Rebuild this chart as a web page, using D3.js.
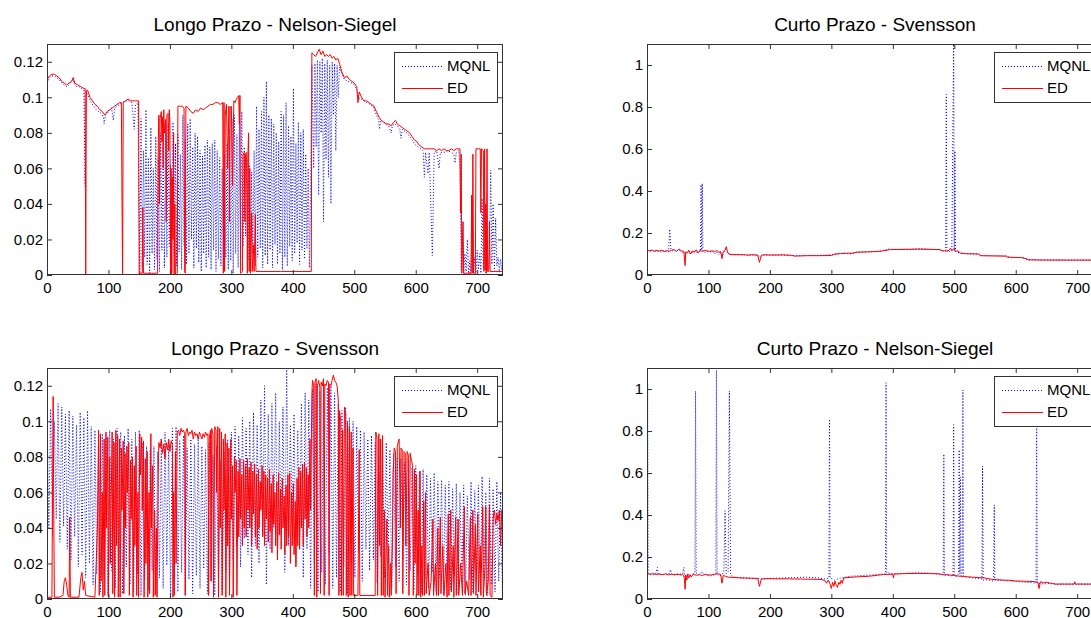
<!DOCTYPE html>
<html>
<head>
<meta charset="utf-8">
<script src="https://cdn.jsdelivr.net/npm/d3@7"></script>
<style>
  body { margin: 0; background: #ffffff; }
  svg { display: block; }
  text { font-family: Arial, "Liberation Sans", sans-serif; fill: #000; }
  .frame { fill: none; stroke: #333; stroke-width: 1; }
  .tick line { stroke: #333; }
  .mqnl { fill: none; stroke: #0000ff; stroke-width: 1; stroke-dasharray: 1,2; }
  .ed { fill: none; stroke: #ff0000; stroke-width: 1; }
  .legendbox { fill: #ffffff; stroke: #333; stroke-width: 1; }
</style>
</head>
<body>
<svg></svg>
<script>

var xTicks = [0, 100, 200, 300, 400, 500, 600, 700];
var xTickLabels = ["0", "100", "200", "300", "400", "500", "600", "700"];
var longTicks = [0, 0.02, 0.04, 0.06, 0.08, 0.1, 0.12];
var longTickLabels = ["0", "0.02", "0.04", "0.06", "0.08", "0.1", "0.12"];
var shortTicks = [0, 0.2, 0.4, 0.6, 0.8, 1];
var shortTickLabels = ["0", "0.2", "0.4", "0.6", "0.8", "1"];
var seriesNames = ["MQNL", "ED"];
var titles = ["Longo Prazo - Nelson-Siegel", "Curto Prazo - Svensson",
              "Longo Prazo - Svensson", "Curto Prazo - Nelson-Siegel"];

// Longo Prazo - Nelson-Siegel
var lpnsMqnl = [[0,.108],[4,.111],[8,.112],[12,.112],[16,.111],[20,.110],[24,.108],[28,.107],[32,.106],[36,.107],[40,.109],[42,.111],[44,.108],[48,.106],[52,.106],[56,.105],[60,.104],[62,.05],[64,.103],[68,.100],[72,.097],[76,.095],[80,.093],[84,.092],[88,.091],[92,.089],[93,.085],[95,.09],[98,.091],[102,.093],[105,.094],[108,.087],[110,.094],[114,.095],[118,.096],[122,.097],[126,.098],[130,.098],[134,.098],[138,.097],[142,.082],[144,.096],[148,.097],
  [151,.000],[153,.088],[155,.004],[157,.070],[159,.010],[161,.093],[163,.006],[165,.066],[167,.001],[169,.083],[171,.012],[173,.060],[175,.003],[177,.078],[179,.009],[181,.066],[183,.002],[185,.080],[187,.014],[189,.072],[191,.004],[193,.088],[195,.010],[197,.085],[199,.016],[201,.062],[203,.002],[205,.086],[207,.011],[209,.074],[211,.005],[213,.079],[215,.013],[217,.068],[219,.003],[221,.090],[223,.017],[225,.076],[227,.006],[229,.085],[231,.012],[233,.088],[235,.020],[237,.072],[239,.004],[241,.080],[243,.015],[245,.078],[247,.007],[249,.070],[251,.002],[253,.067],[255,.012],[257,.073],[259,.004],[261,.076],[263,.010],[265,.072],[267,.003],[269,.074],[271,.014],[273,.076],[275,.002],[277,.070],[279,.009],[281,.066],[283,.005],[285,.060],[287,.001],[289,.068],[291,.010],[293,.074],[295,.003],[297,.082],[299,.008],[301,.088],[303,.001],[305,.090],[307,.012],[309,.079],[311,.004],[313,.085],[315,.010],[317,.092],[319,.016],[321,.072],[323,.022],[325,.066],[327,.008],[329,.062],[331,.002],[333,.058],[335,.012],[337,.070],[339,.005],[341,.095],[343,.010],[345,.082],[347,.015],[349,.092],[351,.004],[353,.100],[355,.011],[357,.109],[359,.006],[361,.090],[363,.014],[365,.088],[367,.004],[369,.085],[371,.017],[373,.080],[375,.006],[377,.075],[379,.012],[381,.092],[383,.003],[385,.090],[387,.010],[389,.097],[391,.005],[393,.084],[395,.016],[397,.078],[399,.008],[401,.105],[403,.012],[405,.074],[407,.018],[409,.086],[411,.006],[413,.080],[415,.014],[417,.082],[419,.009],[421,.068],[423,.015],[425,.060],[427,.004],[429,.052],[431,.118],
  [434,.060],[436,.119],[438,.072],[440,.121],[442,.045],[444,.120],[446,.080],[448,.122],[450,.030],[452,.119],[454,.065],[456,.121],[458,.055],[460,.118],[462,.040],[464,.120],[466,.090],[468,.119],[470,.070],[472,.118],[474,.100],[476,.117],
  [480,.113],[484,.110],[490,.109],[496,.108],[500,.107],[504,.104],[508,.099],[512,.099],[516,.098],[520,.097],[526,.096],[532,.094],[536,.090],[540,.087],[541,.082],[543,.087],[548,.086],[552,.085],[556,.084],[560,.080],[562,.084],[566,.085],[570,.084],[574,.082],[576,.077],[578,.082],[582,.081],[588,.079],[592,.077],[596,.075],[600,.073],[604,.072],[608,.071],[612,.070],[614,.055],[616,.069],[620,.057],[622,.069],[627,.011],[630,.069],[634,.070],[638,.060],[640,.069],[646,.069],[652,.070],[658,.069],[662,.068],[664,.063],[666,.069],[670,.070],[672,.060],
  [674,.003],[676,.025],[678,.001],[680,.012],[682,.002],[684,.020],[686,.000],[688,.008],[690,.001],[692,.042],[694,.002],[696,.010],[698,.000],[700,.014],[702,.003],[704,.012],[706,.001],[708,.043],[710,.004],[712,.015],[714,.001],[716,.010],[718,.003],[720,.014],[722,.059],[724,.006],[726,.040],[728,.002],[730,.032],[732,.005],[734,.010],[736,.002],[738,.009],[740,.003],[742,.006]];

var lpnsEd = [[0,.110],[4,.112],[8,.113],[12,.113],[16,.112],[20,.111],[24,.109],[28,.108],[32,.107],[36,.108],[40,.109],[43,.111],[45,.108],[50,.107],[55,.106],[60,.105],[62,.105],[63,0],[64,.104],[66,.104],[70,.100],[74,.098],[78,.096],[82,.095],[86,.093],[90,.092],[94,.090],[98,.092],[102,.093],[106,.094],[110,.095],[114,.096],[118,.097],[121,.097],[122,.045],[123,0],[124,.097],[128,.098],[132,.099],[136,.098],[140,.098],[144,.098],[149,.098],[150,0],[151,.001],[155,.001],[156,.038],[157,.001],[170,.001],[180,.001],[181,.075],[182,.09],[183,.04],[184,.088],[186,.092],[187,.075],[188,.089],[189,.06],[190,.093],[191,.08],[193,.087],[194,.03],[195,.09],[197,.091],[198,.07],[199,.093],[200,.086],[201,0],[202,.06],[203,0],[204,.055],[205,.02],[206,.08],[207,0],[208,.04],[209,0],[212,.001],[213,.095],[216,.095],[220,.095],[223,.094],[224,.002],[225,.001],[226,.095],[230,.094],[234,.092],[238,.091],[242,.093],[246,.092],[250,.094],[254,.093],[258,.094],[262,.095],[266,.096],[270,.096],[274,.097],[278,.097],[282,.096],[286,.097],[287,.001],[288,.097],[289,.002],[290,.09],[292,.096],[294,.06],[296,.095],[297,.03],[298,.094],[300,.095],[302,.05],[304,.098],[306,.097],[308,.099],[310,.1],[312,.101],[313,.085],[314,.101],[315,.001],[318,.002],[319,.068],[321,.069],[322,.03],[323,.068],[325,.069],[326,.001],[327,.068],[328,.08],[329,.002],[330,.06],[331,.001],[333,.035],[334,.002],[336,.017],[337,.002],[339,.034],[340,.002],[380,.002],[430,.002],[431,.125],[434,.124],[437,.123],[440,.125],[443,.127],[446,.124],[449,.126],[452,.123],[455,.124],[458,.123],[461,.124],[464,.122],[467,.123],[470,.121],[473,.122],[476,.119],[480,.114],[484,.111],[488,.112],[492,.110],[496,.109],[500,.108],[504,.106],[506,.097],[508,.103],[512,.100],[516,.098],[520,.098],[524,.097],[528,.096],[532,.095],[536,.092],[540,.089],[544,.087],[548,.086],[552,.085],[556,.085],[560,.084],[564,.086],[567,.087],[570,.085],[574,.084],[578,.083],[582,.082],[586,.081],[590,.080],[594,.078],[598,.076],[602,.075],[606,.073],[610,.072],[614,.071],[618,.071],[622,.071],[626,.071],[630,.071],[634,.070],[638,.071],[642,.070],[646,.071],[650,.070],[654,.070],[658,.071],[662,.070],[666,.071],[670,.071],[672,.071],[673,.035],[674,.068],[675,.001],[677,.03],[678,.001],[690,.001],[691,.045],[692,.001],[693,.068],[694,.001],[697,.001],[698,.071],[702,.071],[705,.071],[706,.035],[707,.071],[710,.07],[711,.002],[712,.071],[713,.003],[714,.04],[715,.001],[716,.071],[717,.002],[719,.002],[720,.03],[721,.002],[742,.002]];

// Curto Prazo - Svensson
var cpsvMqnl = [[0,.115],[3,.118],[6,.112],[9,.116],[12,.111],[15,.117],[18,.112],[21,.115],[24,.11],[27,.116],[30,.112],[33,.114],[35,.11],[37,.218],[39,.12],[42,.115],[45,.119],[48,.113],[51,.12],[54,.114],[57,.111],[60,.105],[63,.1],[66,.11],[69,.104],[72,.112],[75,.106],[78,.113],[81,.108],[84,.115],[87,.112],[88,.43],[89,.118],[90,.436],[91,.115],[94,.108],[98,.113],[102,.11],[106,.114],[110,.1],[113,.11],[116,.098],[119,.108],[122,.088],[125,.11],[128,.122],[131,.105],[134,.1],[140,.097],[150,.096],[160,.096],[170,.095],[180,.094],[184,.085],[188,.095],[200,.096],[215,.095],[230,.093],[240,.092],[250,.092],[270,.093],[290,.094],[305,.098],[320,.104],[330,.1],[340,.108],[360,.111],[375,.112],[385,.118],[393,.124],[400,.122],[430,.123],[445,.126],[460,.123],[478,.12],[484,.114],[486,.118],[487,.86],[488,.118],[492,.112],[496,.118],[499,1.12],[500,.115],[501,.59],[502,.113],[505,.108],[510,.104],[520,.102],[540,.1],[545,.092],[560,.092],[585,.09],[590,.084],[610,.083],[620,.073],[650,.072],[700,.071],[742,.071]];

var cpsvEd = [[0,.118],[4,.115],[8,.119],[12,.113],[16,.117],[20,.114],[24,.118],[28,.112],[32,.116],[36,.113],[40,.118],[44,.121],[48,.112],[52,.124],[56,.115],[60,.112],[62,.045],[63,.11],[66,.105],[68,.118],[71,.1],[74,.115],[77,.108],[80,.12],[83,.105],[86,.117],[90,.112],[94,.118],[98,.114],[102,.113],[106,.115],[110,.112],[114,.116],[117,.108],[120,.112],[122,.078],[124,.11],[127,.118],[129,.135],[131,.11],[134,.098],[140,.097],[150,.097],[160,.096],[165,.094],[170,.097],[180,.095],[183,.06],[186,.094],[190,.096],[200,.095],[210,.095],[220,.096],[235,.094],[240,.090],[250,.091],[260,.092],[280,.092],[300,.093],[306,.100],[315,.102],[325,.104],[335,.104],[342,.109],[360,.110],[380,.113],[396,.121],[420,.122],[440,.123],[460,.122],[477,.121],[480,.115],[490,.114],[494,.128],[496,.115],[500,.126],[502,.112],[506,.115],[510,.104],[520,.101],[540,.1],[542,.092],[560,.091],[585,.090],[586,.085],[610,.083],[618,.077],[620,.072],[650,.071],[700,.071],[742,.071]];

// Longo Prazo - Svensson
var lpsvMqnl = [[0,.106],[3,.040],[6,.107],[9,.035],[12,.100],[15,.045],[18,.110],[21,.032],[24,.108],[27,.041],[30,.104],[33,.028],[36,.106],[39,.022],[42,.103],[45,.035],[48,.098],[51,.018],[54,.105],[57,.025],[60,.102],[63,.012],[66,.106],[69,.020],[72,.097],[75,.008],[78,.095],[81,.014],[84,.088],[87,.004],[90,.093],[93,.012],[96,.091],[99,.002],[102,.095],[105,.016],[108,.090],[111,.006],[114,.096],[117,.010],[120,.094],[123,.003],[126,.092],[129,.018],[132,.096],[135,.008],[138,.090],[141,.004],[144,.094],[147,.014],[150,.095],[153,.002],[156,.088],[159,.011],[162,.086],[165,.005],[168,.084],[171,.016],[174,.086],[177,.003],[180,.083],[183,.012],[186,.090],[189,.006],[192,.094],[195,.019],[198,.088],[201,.001],[204,.096],[207,.010],[210,.097],[213,.004],[216,.089],[219,.015],[222,.092],[225,.002],[228,.085],[231,.011],[234,.090],[237,.003],[240,.087],[243,.013],[246,.091],[249,.006],[252,.086],[255,.017],[258,.084],[261,.003],[264,.088],[267,.010],[270,.081],[273,.002],[276,.086],[279,.012],[282,.078],[285,.005],[288,.083],[291,.015],[294,.090],[297,.008],[300,.094],[303,.022],[306,.097],[309,.030],[312,.092],[315,.018],[318,.102],[321,.034],[324,.096],[327,.025],[330,.100],[333,.012],[336,.105],[339,.030],[342,.098],[345,.020],[348,.112],[351,.035],[354,.120],[357,.008],[360,.104],[363,.028],[366,.110],[369,.040],[372,.116],[375,.022],[378,.100],[381,.036],[384,.108],[387,.015],[390,.130],[393,.030],[396,.098],[399,.042],[402,.104],[405,.020],[408,.095],[411,.035],[414,.110],[417,.012],[420,.116],[423,.028],[426,.112],[429,.006],[432,.118],[435,.020],[438,.121],[441,.004],[444,.117],[447,.015],[450,.122],[453,.008],[456,.119],[459,.025],[462,.120],[465,.006],[468,.116],[471,.012],[474,.110],[477,.004],[480,.106],[483,.018],[486,.108],[489,.003],[492,.102],[495,.020],[498,.100],[501,.012],[504,.097],[507,.026],[510,.095],[513,.010],[516,.094],[519,.028],[522,.090],[525,.016],[528,.092],[531,.022],[534,.088],[537,.009],[540,.090],[543,.024],[546,.086],[549,.012],[552,.088],[555,.020],[558,.084],[561,.006],[564,.082],[567,.018],[570,.080],[573,.010],[576,.079],[579,.022],[582,.077],[585,.008],[588,.078],[591,.016],[594,.074],[597,.005],[600,.075],[603,.014],[606,.072],[609,.003],[612,.073],[615,.011],[618,.070],[621,.006],[624,.068],[627,.015],[630,.071],[633,.004],[636,.066],[639,.012],[642,.067],[645,.002],[648,.064],[651,.010],[654,.066],[657,.005],[660,.062],[663,.013],[666,.065],[669,.003],[672,.060],[675,.009],[678,.064],[681,.002],[684,.058],[687,.011],[690,.066],[693,.004],[696,.061],[699,.010],[702,.064],[705,.003],[708,.069],[711,.012],[714,.060],[717,.002],[720,.068],[723,.008],[726,.062],[729,.004],[732,.066],[735,.010],[738,.060],[741,.003]];

var lpsvEd = [[0,.001],[8,.001],[9,.06],[10,.114],[11,.05],[12,.001],[20,.001],[26,.002],[28,.010],[30,.012],[32,.008],[34,.002],[36,.001],[37,.046],[38,.001],[52,.001],[55,.012],[57,.015],[59,.005],[61,.010],[63,.002],[78,.001],[80,.02],[82,.04],[84,.095],[85,.002],[87,.093],[88,.01],[90,.06],[91,.001],[93,.09],[94,.002],[96,.094],[97,.04],[99,.091],[100,.001],[102,.08],[103,.02],[106,.094],[107,.003],[109,.088],[110,.001],[112,.095],[113,.03],[115,.092],[116,.001],[118,.09],[119,.001],[121,.085],[122,.05],[124,.089],[125,.003],[127,.082],[128,.04],[130,.086],[131,.06],[133,.088],[134,.002],[136,.078],[137,.045],[139,.08],[140,.001],[142,.075],[143,.03],[145,.086],[146,.002],[148,.06],[149,.001],[151,.093],[152,.07],[154,.091],[155,.05],[157,.089],[158,.001],[160,.079],[161,.02],[163,.083],[164,.001],[166,.06],[167,.003],[169,.093],[170,.04],[172,.075],[173,.001],[175,.05],[176,.002],[178,.04],[179,.001],[181,.07],[182,.088],[184,.085],[186,.09],[188,.082],[190,.087],[192,.079],[194,.088],[196,.084],[198,.09],[200,.083],[202,.089],[204,.087],[205,.001],[206,.06],[207,.002],[209,.083],[210,.02],[212,.094],[214,.095],[216,.092],[218,.096],[220,.094],[222,.095],[224,.093],[225,.002],[226,.094],[228,.096],[230,.092],[232,.094],[234,.093],[236,.095],[238,.09],[240,.094],[242,.092],[244,.093],[246,.09],[248,.094],[250,.092],[252,.09],[254,.093],[256,.091],[258,.094],[260,.092],[262,.093],[263,.002],[264,.09],[266,.095],[267,.01],[268,.096],[270,.093],[271,.001],[273,.097],[275,.095],[276,.06],[278,.097],[279,.001],[281,.096],[282,.04],[284,.094],[285,.002],[287,.09],[288,.05],[290,.093],[291,.001],[293,.088],[294,.03],[296,.085],[297,.002],[299,.09],[300,.045],[302,.075],[303,.001],[305,.08],[306,.06],[308,.078],[309,.002],[311,.072],[312,.035],[314,.079],[315,.045],[317,.07],[318,.03],[320,.078],[321,.04],[323,.075],[324,.035],[326,.079],[327,.05],[329,.074],[330,.04],[332,.077],[333,.03],[335,.072],[336,.048],[338,.076],[339,.035],[341,.07],[342,.028],[344,.073],[345,.04],[347,.066],[348,.05],[350,.075],[351,.035],[353,.072],[354,.03],[356,.07],[357,.045],[359,.068],[360,.032],[362,.073],[363,.038],[365,.065],[366,.026],[368,.07],[369,.042],[371,.06],[372,.03],[374,.066],[375,.022],[377,.071],[378,.036],[380,.062],[381,.028],[383,.068],[384,.04],[386,.058],[387,.025],[389,.064],[390,.03],[392,.07],[393,.035],[395,.071],[396,.02],[398,.06],[399,.03],[401,.065],[402,.025],[404,.055],[405,.018],[407,.068],[408,.03],[410,.074],[411,.028],[413,.072],[414,.04],[416,.076],[417,.03],[419,.077],[420,.045],[422,.074],[423,.035],[425,.07],[426,.04],[428,.09],[429,.05],[431,.115],[432,.123],[434,.12],[435,.002],[436,.122],[438,.124],[439,.001],[440,.12],[442,.123],[444,.119],[445,.003],[446,.122],[448,.12],[450,.124],[451,.002],[452,.121],[454,.12],[456,.123],[458,.122],[459,.002],[460,.121],[462,.12],[464,.123],[466,.126],[468,.123],[470,.122],[472,.12],[474,.112],[475,.002],[476,.106],[478,.1],[479,.002],[481,.095],[482,.002],[484,.108],[486,.104],[487,.002],[489,.1],[490,.001],[492,.097],[493,.002],[495,.094],[496,.002],[498,.085],[499,.002],[506,.002],[508,.084],[509,.002],[534,.002],[535,.094],[537,.09],[538,.002],[540,.093],[541,.03],[543,.09],[544,.002],[546,.092],[547,.002],[549,.05],[550,.001],[553,.045],[554,.002],[556,.03],[557,.001],[559,.02],[560,.002],[562,.03],[563,.07],[565,.085],[567,.083],[568,.003],[570,.086],[572,.089],[573,.09],[575,.04],[576,.085],[578,.084],[579,.003],[581,.083],[583,.082],[584,.03],[586,.083],[588,.081],[589,.002],[591,.082],[593,.078],[595,.075],[596,.002],[598,.073],[599,.02],[601,.07],[602,.002],[604,.05],[605,.002],[607,.072],[608,.001],[610,.03],[611,.002],[613,.055],[614,.002],[616,.06],[617,.003],[620,.02],[622,.002],[625,.01],[628,.045],[629,.002],[632,.02],[634,.002],[636,.04],[637,.002],[640,.046],[641,.003],[644,.03],[646,.002],[649,.02],[651,.001],[653,.048],[654,.002],[657,.05],[658,.004],[661,.03],[662,.001],[665,.046],[666,.002],[669,.045],[670,.002],[673,.02],[676,.002],[679,.052],[680,.003],[683,.01],[686,.002],[689,.046],[690,.002],[693,.05],[694,.003],[697,.042],[698,.002],[701,.048],[702,.004],[705,.03],[706,.002],[709,.052],[710,.001],[713,.02],[714,.052],[715,.002],[718,.01],[720,.053],[721,.002],[724,.001],[726,.046],[728,.05],[730,.042],[732,.048],[734,.044],[736,.05],[738,.03],[740,.05],[742,.045]];

// Curto Prazo - Nelson-Siegel
var cpnsMqnl = [[0,.12],[1,1.03],[2,.12],[6,.118],[10,.115],[14,.12],[17,.15],[18,.118],[24,.116],[30,.118],[36,.12],[38,.14],[40,.118],[46,.115],[52,.117],[58,.12],[60,.15],[61,.11],[64,.095],[66,.12],[70,.11],[74,.118],[78,.125],[79,.99],[80,.125],[84,.115],[90,.13],[92,.118],[98,.114],[104,.11],[110,.115],[112,.12],[113,1.09],[114,.12],[118,.11],[122,.115],[125,.13],[127,.42],[129,.12],[132,.13],[134,.99],[136,.12],[140,.105],[150,.1],[160,.1],[170,.098],[180,.097],[190,.095],[200,.098],[220,.1],[240,.102],[260,.104],[280,.1],[290,.095],[296,.1],[297,.856],[298,.1],[305,.09],[315,.1],[330,.108],[350,.112],[370,.115],[388,.12],[389,1.03],[390,.125],[400,.12],[420,.122],[440,.125],[460,.123],[470,.12],[482,.115],[483,.69],[484,.115],[490,.112],[498,.11],[499,.83],[500,.11],[504,.108],[507,.12],[508,.71],[509,.12],[510,.58],[511,.11],[513,.12],[514,.995],[515,.11],[520,.105],[530,.1],[540,.098],[545,.095],[546,.633],[547,.09],[555,.092],[564,.085],[565,.448],[566,.09],[575,.088],[585,.087],[595,.085],[605,.082],[615,.08],[625,.078],[633,.075],[634,.9],[635,.075],[645,.072],[655,.074],[665,.07],[675,.071],[742,.071]];

var cpnsEd = [[0,.12],[5,.118],[10,.121],[15,.117],[20,.119],[25,.116],[30,.12],[35,.115],[40,.118],[45,.116],[50,.119],[55,.114],[58,.117],[60,.11],[61,.09],[62,.046],[63,.115],[65,.09],[66,.118],[68,.1],[70,.116],[72,.105],[75,.118],[80,.113],[85,.116],[90,.112],[95,.117],[100,.114],[105,.115],[110,.118],[115,.12],[120,.116],[122,.075],[124,.112],[128,.108],[132,.104],[140,.103],[150,.101],[160,.1],[170,.099],[180,.098],[183,.06],[186,.096],[195,.097],[210,.096],[230,.096],[250,.095],[270,.094],[285,.093],[290,.085],[292,.075],[295,.09],[298,.07],[300,.05],[302,.08],[304,.06],[306,.085],[308,.065],[310,.055],[312,.08],[314,.07],[316,.09],[318,.075],[320,.1],[325,.102],[335,.104],[345,.106],[360,.108],[375,.113],[385,.117],[400,.118],[401,.1],[402,.119],[420,.121],[440,.122],[460,.121],[475,.12],[480,.117],[485,.115],[490,.116],[495,.113],[500,.112],[505,.11],[510,.108],[520,.106],[530,.104],[540,.102],[550,.1],[560,.094],[570,.092],[580,.09],[590,.089],[600,.086],[610,.085],[620,.084],[630,.083],[636,.08],[638,.05],[640,.082],[645,.078],[650,.08],[655,.076],[660,.074],[665,.071],[695,.071],[696,.082],[697,.071],[742,.071]];

// ---------- layout

var width = 1091;
var height = 618;
var plotW = 456;
var plotH = 231;
var xMax = 742;

var svg = d3.select("svg")
    .attr("width", width)
    .attr("height", height);

var panels = [
    {title: titles[0], left: 47, top: 44, mqnl: lpnsMqnl, ed: lpnsEd, yMax: 0.13, ticks: longTicks, labels: longTickLabels},
    {title: titles[1], left: 647, top: 44, mqnl: cpsvMqnl, ed: cpsvEd, yMax: 1.1, ticks: shortTicks, labels: shortTickLabels},
    {title: titles[2], left: 47, top: 368, mqnl: lpsvMqnl, ed: lpsvEd, yMax: 0.13, ticks: longTicks, labels: longTickLabels},
    {title: titles[3], left: 647, top: 368, mqnl: cpnsMqnl, ed: cpnsEd, yMax: 1.1, ticks: shortTicks, labels: shortTickLabels}
];

panels.forEach(function (p, i) {

    var xScale = d3.scaleLinear()
        .domain([0, xMax])
        .range([p.left, p.left + plotW]);

    var yScale = d3.scaleLinear()
        .domain([0, p.yMax])
        .range([p.top + plotH, p.top]);

    var line = d3.line()
        .x(function (d) { return xScale(d[0]); })
        .y(function (d) { return yScale(d[1]); });

    // clip the series to the axes box
    svg.append("clipPath")
        .attr("id", "clip" + i)
        .append("rect")
        .attr("x", p.left)
        .attr("y", p.top)
        .attr("width", plotW)
        .attr("height", plotH);

    var g = svg.append("g").attr("clip-path", "url(#clip" + i + ")");

    g.append("path")
        .datum(p.mqnl)
        .attr("class", "mqnl")
        .attr("d", line);

    g.append("path")
        .datum(p.ed)
        .attr("class", "ed")
        .attr("d", line);

    // axes: ticks point inwards on all four sides
    var xLabels = d3.axisBottom(xScale)
        .tickValues(xTicks)
        .tickFormat(function (d, k) { return xTickLabels[k]; })
        .tickSizeInner(-5)
        .tickSizeOuter(0)
        .tickPadding(7);

    var xTop = d3.axisTop(xScale)
        .tickValues(xTicks)
        .tickFormat("")
        .tickSizeInner(-5)
        .tickSizeOuter(0);

    var yLabels = d3.axisLeft(yScale)
        .tickValues(p.ticks)
        .tickFormat(function (d, k) { return p.labels[k]; })
        .tickSizeInner(-5)
        .tickSizeOuter(0)
        .tickPadding(4);

    var yRight = d3.axisRight(yScale)
        .tickValues(p.ticks)
        .tickFormat("")
        .tickSizeInner(-5)
        .tickSizeOuter(0);

    var axes = [
        [xLabels, "translate(0," + (p.top + plotH) + ")"],
        [xTop, "translate(0," + p.top + ")"],
        [yLabels, "translate(" + p.left + ",0)"],
        [yRight, "translate(" + (p.left + plotW) + ",0)"]
    ];

    axes.forEach(function (a) {
        var ax = svg.append("g")
            .attr("transform", a[1])
            .call(a[0]);
        ax.select(".domain").remove();
        ax.selectAll("text")
            .style("font-size", "15px")
            .style("font-family", "Arial, 'Liberation Sans', sans-serif")
            .attr("fill", "#000");
    });

    svg.append("rect")
        .attr("class", "frame")
        .attr("x", p.left + 0.5)
        .attr("y", p.top + 0.5)
        .attr("width", plotW - 1)
        .attr("height", plotH - 1);

    // title
    svg.append("text")
        .attr("x", p.left + plotW / 2)
        .attr("y", p.top - 13)
        .attr("text-anchor", "middle")
        .style("font-size", "19px")
        .text(p.title);

    // legend
    var lx = p.left + plotW - 6 - 103;
    var ly = p.top + 8;
    var legend = svg.append("g");

    legend.append("rect")
        .attr("class", "legendbox")
        .attr("x", lx + 0.5)
        .attr("y", ly + 0.5)
        .attr("width", 103)
        .attr("height", 50);

    ["mqnl", "ed"].forEach(function (cls, k) {
        var ry = ly + 14 + k * 22;
        legend.append("line")
            .attr("class", cls)
            .attr("x1", lx + 8)
            .attr("x2", lx + 49)
            .attr("y1", ry + 0.5)
            .attr("y2", ry + 0.5);
        legend.append("text")
            .attr("x", lx + 53)
            .attr("y", ry + 5)
            .style("font-size", "15px")
            .text(seriesNames[k]);
    });
});

</script>
</body>
</html>
